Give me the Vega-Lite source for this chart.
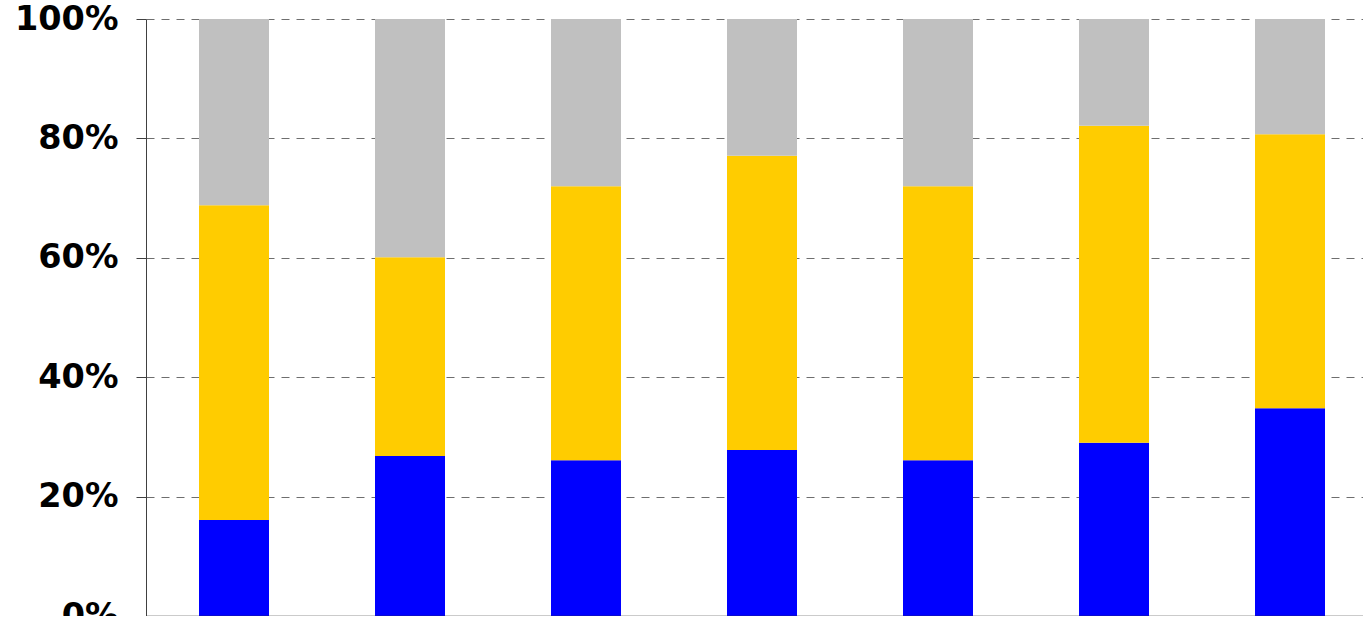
{
  "$schema": "https://vega.github.io/schema/vega-lite/v6.json",
  "autosize": "none",
  "padding": {"left": 146, "top": 19, "right": 0, "bottom": 0},
  "width": 1232,
  "height": 597,
  "background": "white",
  "data": {
    "values": [
      {"group": "1", "series": "A", "rank": 1, "share": 16.1},
      {"group": "1", "series": "B", "rank": 2, "share": 52.7},
      {"group": "1", "series": "C", "rank": 3, "share": 31.2},
      {"group": "2", "series": "A", "rank": 1, "share": 26.8},
      {"group": "2", "series": "B", "rank": 2, "share": 33.3},
      {"group": "2", "series": "C", "rank": 3, "share": 39.9},
      {"group": "3", "series": "A", "rank": 1, "share": 26.1},
      {"group": "3", "series": "B", "rank": 2, "share": 45.9},
      {"group": "3", "series": "C", "rank": 3, "share": 28.0},
      {"group": "4", "series": "A", "rank": 1, "share": 27.8},
      {"group": "4", "series": "B", "rank": 2, "share": 49.3},
      {"group": "4", "series": "C", "rank": 3, "share": 22.9},
      {"group": "5", "series": "A", "rank": 1, "share": 26.1},
      {"group": "5", "series": "B", "rank": 2, "share": 45.9},
      {"group": "5", "series": "C", "rank": 3, "share": 28.0},
      {"group": "6", "series": "A", "rank": 1, "share": 29.0},
      {"group": "6", "series": "B", "rank": 2, "share": 53.1},
      {"group": "6", "series": "C", "rank": 3, "share": 17.9},
      {"group": "7", "series": "A", "rank": 1, "share": 34.8},
      {"group": "7", "series": "B", "rank": 2, "share": 45.9},
      {"group": "7", "series": "C", "rank": 3, "share": 19.3}
    ]
  },
  "config": {
    "view": {"stroke": null},
    "axis": {"labelFont": "DejaVu Sans", "labelFontWeight": "bold", "labelColor": "#000000"}
  },
  "mark": {"type": "bar", "size": 70},
  "encoding": {
    "x": {
      "field": "group",
      "type": "ordinal",
      "scale": {"paddingInner": 0, "paddingOuter": 0},
      "axis": {
        "title": null,
        "labels": false,
        "zindex": 1,
        "domainColor": "#303030",
        "domainWidth": 1.5,
        "tickColor": "#303030",
        "tickBand": "extent",
        "tickSize": 8,
        "grid": false
      }
    },
    "y": {
      "field": "share",
      "type": "quantitative",
      "stack": "normalize",
      "scale": {"domain": [0, 1], "nice": false},
      "axis": {
        "title": null,
        "values": [0, 0.2, 0.4, 0.6, 0.8, 1],
        "format": ".0%",
        "labelFontSize": 33.5,
        "labelPadding": 18,
        "tickSize": 10,
        "tickColor": "#404040",
        "domainColor": "#404040",
        "grid": true,
        "gridColor": "#6e6e6e",
        "gridDash": [8, 7],
        "gridWidth": 1
      }
    },
    "color": {
      "field": "series",
      "type": "nominal",
      "scale": {"domain": ["A", "B", "C"], "range": ["#0000FF", "#FFCC00", "#C0C0C0"]},
      "legend": null
    },
    "order": {"field": "rank", "type": "quantitative"}
  }
}
